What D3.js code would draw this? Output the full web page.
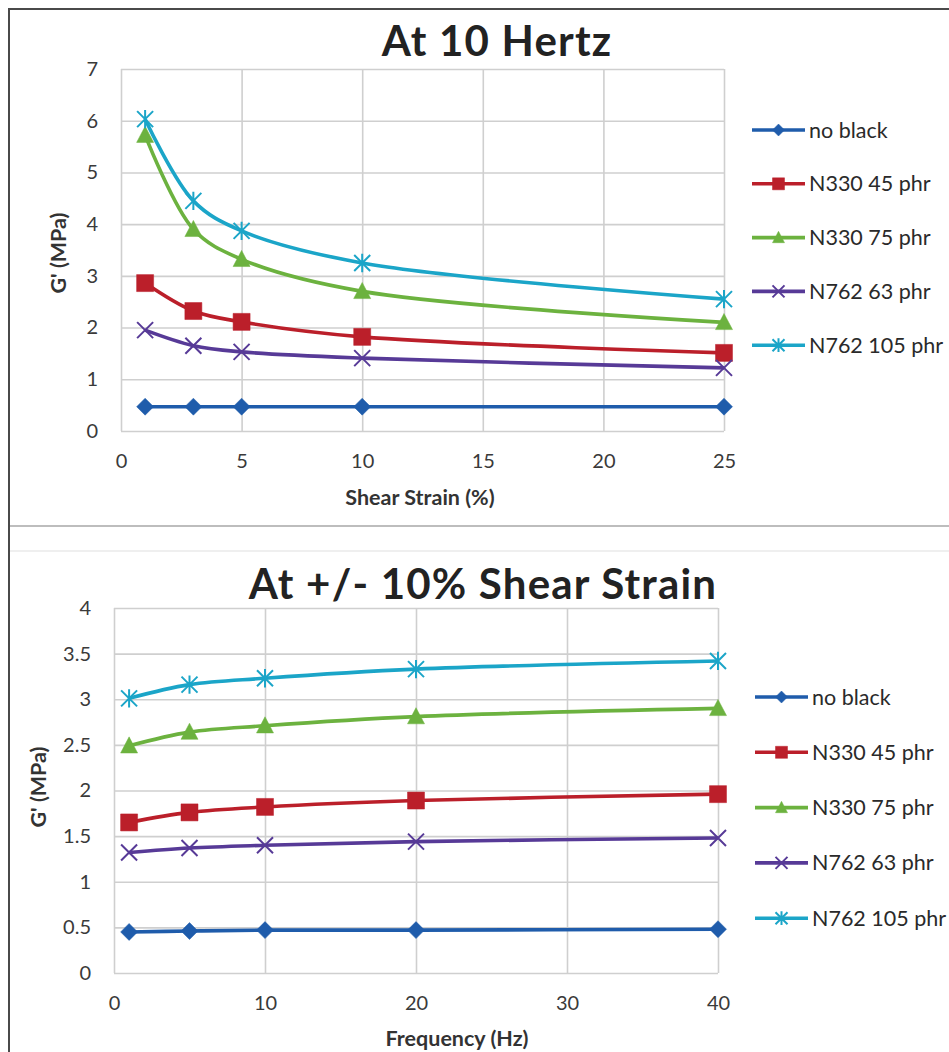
<!DOCTYPE html>
<html><head><meta charset="utf-8">
<script src="https://cdn.jsdelivr.net/npm/d3@7"></script>
<style>
html,body{margin:0;padding:0;background:#fff;}
svg{display:block;}
text{font-family:Lato,"Open Sans",sans-serif;}
</style></head>
<body>
<svg id="chart" width="949" height="1052"></svg>
<script>
// ---- data ----
const seriesNames = ["no black","N330 45 phr","N330 75 phr","N762 63 phr","N762 105 phr"];
const seriesColors = ["#1f5cab","#bb1f2a","#6cb23f","#573a97","#1ba5c8"];
const seriesMarkers = ["diamond","square","triangle","x","star"];

const strainX = [1,3,5,10,25];
const strainNoBlack = [0.47,0.47,0.47,0.47,0.47];
const strainN330_45 = [2.86,2.32,2.11,1.82,1.51];
const strainN330_75 = [5.72,3.90,3.32,2.70,2.10];
const strainN762_63 = [1.95,1.65,1.53,1.41,1.22];
const strainN762_105 = [6.03,4.45,3.87,3.25,2.55];

const freqX = [1,5,10,20,40];
const freqNoBlack = [0.45,0.46,0.47,0.47,0.48];
const freqN330_45 = [1.65,1.76,1.82,1.89,1.96];
const freqN330_75 = [2.49,2.64,2.71,2.81,2.90];
const freqN762_63 = [1.32,1.37,1.40,1.44,1.48];
const freqN762_105 = [3.01,3.16,3.23,3.33,3.42];

const strainTicksX = [0,5,10,15,20,25];
const strainTicksY = [0,1,2,3,4,5,6,7];
const freqTicksX = [0,10,20,30,40];
const freqTicksY = [0,0.5,1,1.5,2,2.5,3,3.5,4];

const svg = d3.select("#chart");

// frame
svg.append("line").attr("x1",9).attr("x2",949).attr("y1",9).attr("y2",9).attr("stroke","#4a4a4a").attr("stroke-width",2);
svg.append("line").attr("x1",9).attr("x2",9).attr("y1",8).attr("y2",1052).attr("stroke","#4a4a4a").attr("stroke-width",2);
svg.append("line").attr("x1",10).attr("x2",949).attr("y1",526).attr("y2",526).attr("stroke","#bdbdbd").attr("stroke-width",2);
svg.append("line").attr("x1",10).attr("x2",949).attr("y1",551).attr("y2",551).attr("stroke","#e0e0e0").attr("stroke-width",1.2);

function markerPath(type, s){
  const h = s/2;
  switch(type){
    case "diamond": return `M0,${-h}L${h},0L0,${h}L${-h},0Z`;
    case "square": return `M${-h},${-h}H${h}V${h}H${-h}Z`;
    case "triangle": return `M0,${-h*1.05}L${h},${h*0.85}L${-h},${h*0.85}Z`;
    case "x": return `M${-h},${-h}L${h},${h}M${-h},${h}L${h},${-h}`;
    case "star": return `M${-h},${-h}L${h},${h}M${-h},${h}L${h},${-h}M0,${-h*1.15}V${h*1.15}`;
  }
}
function drawMarker(g, type, color, x, y, s){
  const filled = type==="diamond"||type==="square"||type==="triangle";
  g.append("path").attr("d",markerPath(type,s)).attr("transform",`translate(${x},${y})`)
    .attr("fill",filled?color:"none").attr("stroke",color).attr("stroke-width",filled?0.5:2);
}

function drawChart(cfg){
  const g = svg.append("g");
  const x = d3.scaleLinear().domain(cfg.xDomain).range([cfg.left,cfg.right]);
  const y = d3.scaleLinear().domain(cfg.yDomain).range([cfg.bottom,cfg.top]);
  // gridlines
  g.append("g").attr("transform",`translate(0,${cfg.bottom})`)
    .call(d3.axisBottom(x).tickValues(cfg.xTicks).tickSize(-(cfg.bottom-cfg.top)).tickFormat(d3.format("d")).tickPadding(23))
    .call(a=>{a.select(".domain").remove();
      a.selectAll("line").attr("stroke","#cfcfcf").attr("stroke-width",1.6);
      a.selectAll("text").attr("font-size",20).attr("fill","#3a3a3a").attr("font-family","Lato, sans-serif");});
  g.append("g").attr("transform",`translate(${cfg.left},0)`)
    .call(d3.axisLeft(y).tickValues(cfg.yTicks).tickSize(-(cfg.right-cfg.left)).tickFormat(cfg.yFmt).tickPadding(23))
    .call(a=>{a.select(".domain").remove();
      a.selectAll("line").attr("stroke","#cfcfcf").attr("stroke-width",1.6);
      a.selectAll("text").attr("font-size",20).attr("fill","#3a3a3a").attr("font-family","Lato, sans-serif");});
  // title
  g.append("text").attr("x",cfg.titleX).attr("y",cfg.titleY).attr("text-anchor","middle")
    .attr("font-size",42).attr("font-weight","bold").attr("fill","#222").attr("letter-spacing",1.2).text(cfg.title);
  g.append("text").attr("x",cfg.xTitleX).attr("y",cfg.xTitleY).attr("text-anchor","middle")
    .attr("font-size",21.5).attr("font-weight","bold").attr("fill","#333").text(cfg.xTitle);
  g.append("text").attr("transform",`translate(${cfg.yTitleX},${cfg.yTitleY}) rotate(-90)`).attr("text-anchor","middle")
    .attr("font-size",21.5).attr("font-weight","bold").attr("fill","#333").attr("dy","0.35em").text("G' (MPa)");
  const line = d3.line().x(d=>x(d[0])).y(d=>y(d[1])).curve(d3.curveCatmullRom.alpha(0.5));
  cfg.series.forEach((vals,i)=>{
    const pts = cfg.xs.map((xv,j)=>[xv,vals[j]]);
    g.append("path").attr("d",line(pts)).attr("fill","none").attr("stroke",seriesColors[i]).attr("stroke-width",3.6);
  });
  cfg.series.forEach((vals,i)=>{
    cfg.xs.forEach((xv,j)=>drawMarker(g,seriesMarkers[i],seriesColors[i],x(xv),y(vals[j]),seriesMarkers[i]==="x"||seriesMarkers[i]==="star"?16:17));
  });
  // legend
  seriesNames.forEach((nm,i)=>{
    const ly = cfg.legY + i*cfg.legStep;
    g.append("line").attr("x1",cfg.legX).attr("x2",cfg.legX+53).attr("y1",ly).attr("y2",ly)
      .attr("stroke",seriesColors[i]).attr("stroke-width",3.6);
    drawMarker(g,seriesMarkers[i],seriesColors[i],cfg.legX+26.5,ly,12);
    g.append("text").attr("x",cfg.legX+57).attr("y",ly).attr("dy","0.35em").attr("font-size",21.5)
      .attr("fill","#2a2a2a").text(nm);
  });
}

drawChart({
  title:"At 10 Hertz", titleX:497, titleY:56,
  xTitle:"Shear Strain (%)", xTitleX:420, xTitleY:505,
  yTitleX:58, yTitleY:253,
  left:121, right:724, top:69, bottom:431,
  xDomain:[0,25], yDomain:[0,7], xTicks:strainTicksX, yTicks:strainTicksY, yFmt:d3.format("d"),
  xs:strainX, series:[strainNoBlack,strainN330_45,strainN330_75,strainN762_63,strainN762_105],
  legX:752, legY:130, legStep:53.8
});
drawChart({
  title:"At +/- 10% Shear Strain", titleX:483, titleY:599,
  xTitle:"Frequency (Hz)", xTitleX:457, xTitleY:1046,
  yTitleX:38, yTitleY:787,
  left:114, right:718, top:608, bottom:973,
  xDomain:[0,40], yDomain:[0,4], xTicks:freqTicksX, yTicks:freqTicksY, yFmt:d=>String(d),
  xs:freqX, series:[freqNoBlack,freqN330_45,freqN330_75,freqN762_63,freqN762_105],
  legX:755, legY:697, legStep:55.3
});
</script>
</body></html>
